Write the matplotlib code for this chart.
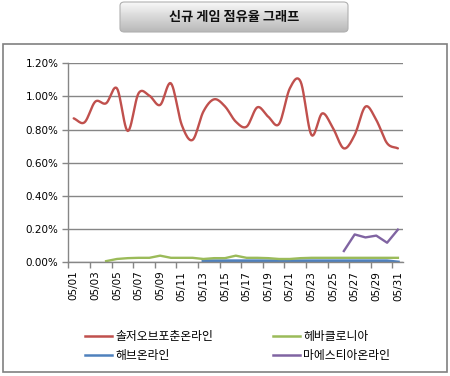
import numpy as np
import matplotlib
matplotlib.use('Agg')
import matplotlib.pyplot as plt
from matplotlib.patches import Rectangle, FancyBboxPatch
from matplotlib.lines import Line2D

plt.rcParams['font.family'] = ['Noto Sans CJK KR', 'DejaVu Sans']

dates = ['05/%02d' % d for d in range(1, 32)]

soldier = [0.868, 0.844, 0.969, 0.959, 1.049, 0.792, 1.019, 1.005, 0.949, 1.079,
           0.828, 0.738, 0.909, 0.983, 0.940, 0.848, 0.818, 0.935, 0.878, 0.834,
           1.049, 1.089, 0.768, 0.898, 0.808, 0.687, 0.768, 0.939, 0.858, 0.718,
           0.687]
hebaclonia = [None, None, None, 0.007, 0.020, 0.025, 0.027, 0.027, 0.040, 0.027,
              0.027, 0.027, 0.020, 0.025, 0.025, 0.040, 0.027, 0.027, 0.025, 0.020,
              0.020, 0.025, 0.027, 0.027, 0.027, 0.027, 0.027, 0.027, 0.027, 0.027,
              0.027]
heb = [None] * 12 + [0.007] * 18 + [0.0]
maestia = [None] * 25 + [0.068, 0.168, 0.150, 0.161, 0.118, 0.197]

yticks = [0.0, 0.2, 0.4, 0.6, 0.8, 1.0, 1.2]


def smooth(x, y, n=12):
    # Catmull-Rom curve through the points, like Excel's smoothed line
    x = np.asarray(x, float)
    y = np.asarray(y, float)
    px = np.concatenate([[2 * x[0] - x[1]], x, [2 * x[-1] - x[-2]]])
    py = np.concatenate([[2 * y[0] - y[1]], y, [2 * y[-1] - y[-2]]])
    xs, ys = [], []
    t = np.linspace(0, 1, n, endpoint=False)
    for i in range(1, len(px) - 2):
        for p, out in ((px, xs), (py, ys)):
            p0, p1, p2, p3 = p[i - 1], p[i], p[i + 1], p[i + 2]
            out.extend(0.5 * ((2 * p1) + (-p0 + p2) * t +
                              (2 * p0 - 5 * p1 + 4 * p2 - p3) * t ** 2 +
                              (-p0 + 3 * p1 - 3 * p2 + p3) * t ** 3))
    xs.append(x[-1])
    ys.append(y[-1])
    return np.array(xs), np.array(ys)


def series(vals):
    idx = [i for i, v in enumerate(vals) if v is not None]
    return np.array(idx), np.array([vals[i] for i in idx])


fig = plt.figure(figsize=(4.5, 3.76), dpi=100)

# chart frame
fig.patches.append(Rectangle((3 / 450, 1 - 372 / 376), 444 / 450, 328 / 376,
                             transform=fig.transFigure, fill=False,
                             edgecolor='#808080', linewidth=1.2))

# title button with grey gradient
bx0, bx1, by0, by1 = 120 / 450, 348 / 450, 1 - 32 / 376, 1 - 2 / 376
bax = fig.add_axes([0, 0, 1, 1], zorder=-1)
bax.set_xlim(0, 1)
bax.set_ylim(0, 1)
bax.axis('off')
grad = np.linspace(0.97, 0.72, 64).reshape(-1, 1)
img = bax.imshow(grad, extent=[bx0, bx1, by0, by1], cmap='gray', vmin=0, vmax=1,
                 aspect='auto', origin='upper')
btn = FancyBboxPatch((bx0, by0), bx1 - bx0, by1 - by0,
                     boxstyle='round,pad=0,rounding_size=0.01',
                     transform=bax.transData, facecolor='none',
                     edgecolor='#b0b0b0', linewidth=0.8)
bax.add_patch(btn)
img.set_clip_path(btn)
fig.text((bx0 + bx1) / 2, (by0 + by1) / 2, '신규 게임 점유율 그래프',
         ha='center', va='center', fontsize=9.5, fontweight='bold', color='#111111')

ax = fig.add_axes([68.3 / 450, 1 - 262.3 / 376, 335 / 450, 199 / 376])
ax.set_xlim(-0.5, 30.5)
ax.set_ylim(0, 1.2)

for s in ('top', 'right'):
    ax.spines[s].set_visible(False)
for s in ('left', 'bottom'):
    ax.spines[s].set_color('#868686')
    ax.spines[s].set_linewidth(1.0)

ax.set_yticks(yticks)
ax.set_yticklabels(['%.2f%%' % v for v in yticks], fontsize=7.5, family='DejaVu Sans')
ax.yaxis.grid(True, color='#868686', linewidth=1.0)
ax.set_axisbelow(True)
ax.tick_params(axis='y', length=4, width=1.0, color='#868686', pad=3)

ax.set_xticks(np.arange(0, 31, 2))
ax.set_xticklabels(dates[::2], rotation=90, fontsize=7.5, family='DejaVu Sans')
ax.tick_params(axis='x', length=0, pad=6)
ax.set_xticks(np.arange(-0.5, 31, 2), minor=True)
ax.tick_params(axis='x', which='minor', length=4, width=1.0, color='#868686')

red, green, blue, purple = '#C0504D', '#9BBB59', '#4F81BD', '#8064A2'

x, y = series(soldier)
sx, sy = smooth(x, y)
ax.plot(sx, sy, color=red, linewidth=1.7, solid_capstyle='round')
x, y = series(heb)
ax.plot(x, y, color=blue, linewidth=2.6)
x, y = series(hebaclonia)
ax.plot(x, y, color=green, linewidth=1.7)
x, y = series(maestia)
ax.plot(x, y, color=purple, linewidth=1.7)

handles = [Line2D([], [], color=red, linewidth=1.8),
           Line2D([], [], color=blue, linewidth=1.8),
           Line2D([], [], color=green, linewidth=1.8),
           Line2D([], [], color=purple, linewidth=1.8)]
labels = ['솔저오브포춘온라인', '해브온라인', '헤바클로니아', '마에스티아온라인']
fig.legend(handles, labels, ncol=2, loc='upper left',
           bbox_to_anchor=(85 / 450, 1 - 330 / 376), frameon=False,
           fontsize=8.5, handlelength=2.3, handletextpad=0.3,
           columnspacing=5.0, labelspacing=0.5, borderpad=0, borderaxespad=0)

fig.savefig('out.png', dpi=100)
